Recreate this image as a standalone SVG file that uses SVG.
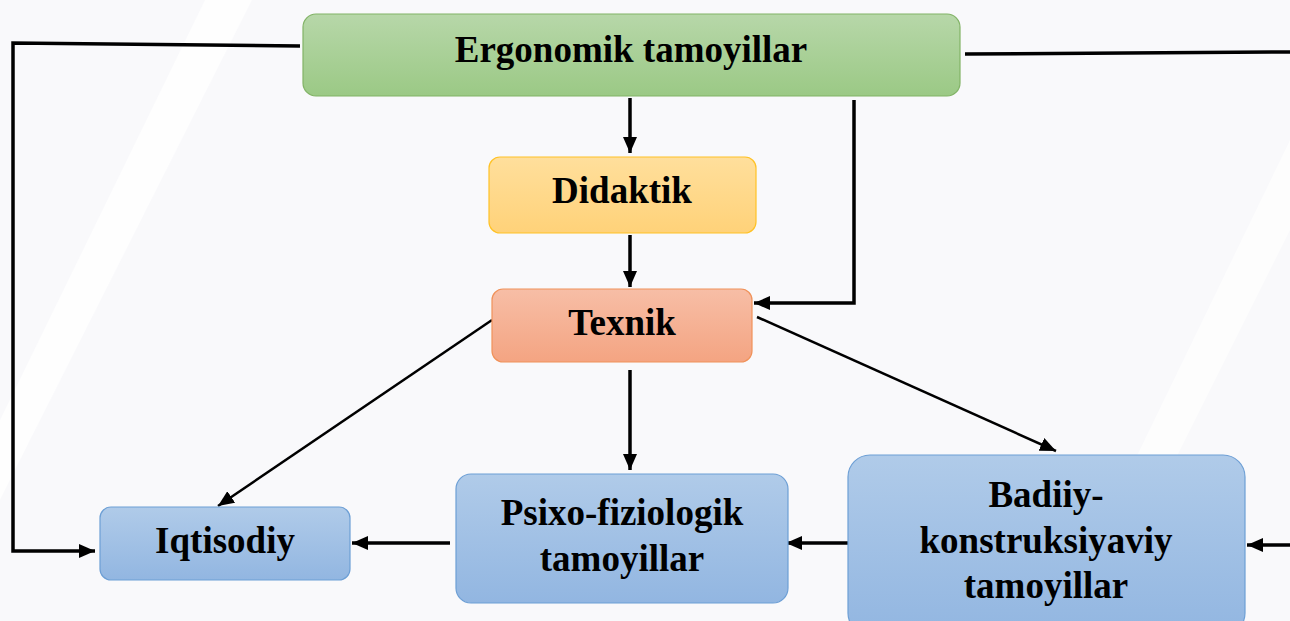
<svg xmlns="http://www.w3.org/2000/svg" width="1290" height="621" viewBox="0 0 1290 621">
<defs>
<linearGradient id="gGreen" x1="0" y1="0" x2="0" y2="1"><stop offset="0" stop-color="#b7d7a9"/><stop offset="1" stop-color="#9bc985"/></linearGradient>
<linearGradient id="gYellow" x1="0" y1="0" x2="0" y2="1"><stop offset="0" stop-color="#ffdf9c"/><stop offset="1" stop-color="#ffd279"/></linearGradient>
<linearGradient id="gOrange" x1="0" y1="0" x2="0" y2="1"><stop offset="0" stop-color="#f7bea6"/><stop offset="1" stop-color="#f4a482"/></linearGradient>
<linearGradient id="gBlue" x1="0" y1="0" x2="0" y2="1"><stop offset="0" stop-color="#b0cbe9"/><stop offset="1" stop-color="#92b6e1"/></linearGradient>
<marker id="arr" viewBox="0 0 16 14" refX="16" refY="7" markerWidth="16" markerHeight="14" markerUnits="userSpaceOnUse" orient="auto">
<path d="M0,0 L16,7 L0,14 Z" fill="#000"/>
</marker>
</defs>
<style>
.lbl{font-family:"Liberation Serif","Times New Roman",serif;font-weight:bold;font-size:37px;fill:#000;text-anchor:middle}
.c{fill:none;stroke:#000;stroke-width:3.5;stroke-linejoin:miter}
.d{fill:none;stroke:#000;stroke-width:2.5}
</style>
<rect x="0" y="0" width="1290" height="621" fill="#f9f9fb"/>
<polygon points="205,0 252,0 20,460 0,500 0,420" fill="#ffffff" opacity="0.75"/>
<polygon points="1290,140 1290,230 1170,470 1130,470" fill="#ffffff" opacity="0.6"/>

<g id="connectors">
<polyline class="c" points="300,46 13,43 13,551 95,551" marker-end="url(#arr)"/>
<polyline class="c" points="965,54 1290,52"/>
<line class="c" x1="630" y1="98" x2="630" y2="153" marker-end="url(#arr)"/>
<polyline class="c" points="854,100 854,303 754,303" marker-end="url(#arr)"/>
<line class="c" x1="630" y1="235" x2="630" y2="287" marker-end="url(#arr)"/>
<line class="c" x1="630" y1="370" x2="630" y2="470" marker-end="url(#arr)"/>
<line class="d" x1="492" y1="320" x2="218" y2="506" marker-end="url(#arr)"/>
<line class="d" x1="757" y1="317" x2="1056" y2="451" marker-end="url(#arr)"/>
<line class="c" x1="450" y1="543" x2="352" y2="543" marker-end="url(#arr)"/>
<line class="c" x1="848" y1="543" x2="786" y2="543" marker-end="url(#arr)"/>
<line class="c" x1="1290" y1="545" x2="1247" y2="545" marker-end="url(#arr)"/>
</g>

<g id="ergonomik">
<rect x="303" y="14" width="657" height="82" rx="13" fill="url(#gGreen)" stroke="#82b366" stroke-width="1.2"/>
<text class="lbl" x="631" y="62">Ergonomik tamoyillar</text>
</g>
<g id="didaktik">
<rect x="489" y="157" width="267" height="76" rx="11" fill="url(#gYellow)" stroke="#ffc226" stroke-width="1.2"/>
<text class="lbl" x="622" y="203">Didaktik</text>
</g>
<g id="texnik">
<rect x="492" y="289" width="260" height="73" rx="11" fill="url(#gOrange)" stroke="#f0925a" stroke-width="1.2"/>
<text class="lbl" x="622" y="335">Texnik</text>
</g>
<g id="iqtisodiy">
<rect x="100" y="507" width="250" height="73" rx="11" fill="url(#gBlue)" stroke="#6d9fd5" stroke-width="1.2"/>
<text class="lbl" x="225" y="553">Iqtisodiy</text>
</g>
<g id="psixo">
<rect x="456" y="474" width="332" height="129" rx="15" fill="url(#gBlue)" stroke="#6d9fd5" stroke-width="1.2"/>
<text class="lbl" x="622" y="525">Psixo-fiziologik</text>
<text class="lbl" x="622" y="571">tamoyillar</text>
</g>
<g id="badiiy">
<rect x="848" y="455" width="397" height="180" rx="22" fill="url(#gBlue)" stroke="#6d9fd5" stroke-width="1.2"/>
<text class="lbl" x="1046" y="507">Badiiy-</text>
<text class="lbl" x="1046" y="553">konstruksiyaviy</text>
<text class="lbl" x="1046" y="598">tamoyillar</text>
</g>
</svg>
